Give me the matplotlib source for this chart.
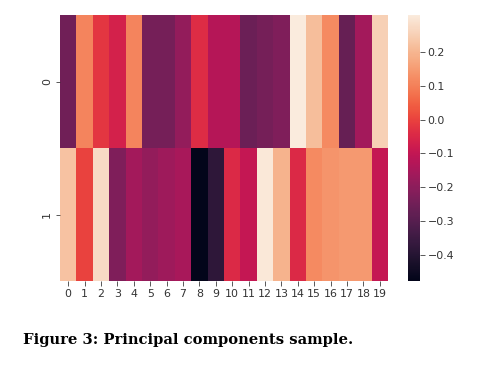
import numpy as np
import matplotlib
matplotlib.use("Agg")
import matplotlib.pyplot as plt
import seaborn as sns

columns = list(range(20))
rows = ["0", "1"]
pc0 = [-0.252, 0.108, -0.021, -0.064, 0.108, -0.242, -0.242, -0.187, -0.039, -0.126,
       -0.126, -0.261, -0.242, -0.224, 0.308, 0.216, 0.117, -0.270, -0.159, 0.250]
pc1 = [0.225, 0.001, 0.274, -0.224, -0.159, -0.187, -0.169, -0.150, -0.476, -0.381,
       -0.046, -0.098, 0.299, 0.194, -0.046, 0.117, 0.136, 0.145, 0.145, -0.098]
cbar_ticks = [-0.4, -0.3, -0.2, -0.1, 0.0, 0.1, 0.2]
caption = "Figure 3: Principal components sample."

data = np.array([pc0, pc1])

fig = plt.figure(figsize=(489/72, 366/72), dpi=72)
ax = fig.add_axes([60/489, 1-281/366, 328/489, 266/366])
cax = fig.add_axes([408/489, 1-281/366, 12/489, 266/366])
sns.heatmap(data, ax=ax, cbar_ax=cax, cmap="rocket",
            xticklabels=columns, yticklabels=rows)
ax.tick_params(axis='both', labelsize=11, length=4.5, pad=3.5, colors='#333333')
cax.tick_params(labelsize=11, length=4.5, pad=3, colors='#333333')
cax.set_yticks(cbar_ticks)
for t in ax.get_yticklabels():
    t.set_rotation(90)
fig.text(23/489, 1-340/366, caption, fontsize=14.7, fontweight='bold',
         family='DejaVu Serif', va='center', ha='left')
fig.savefig("out.png", dpi=72)
